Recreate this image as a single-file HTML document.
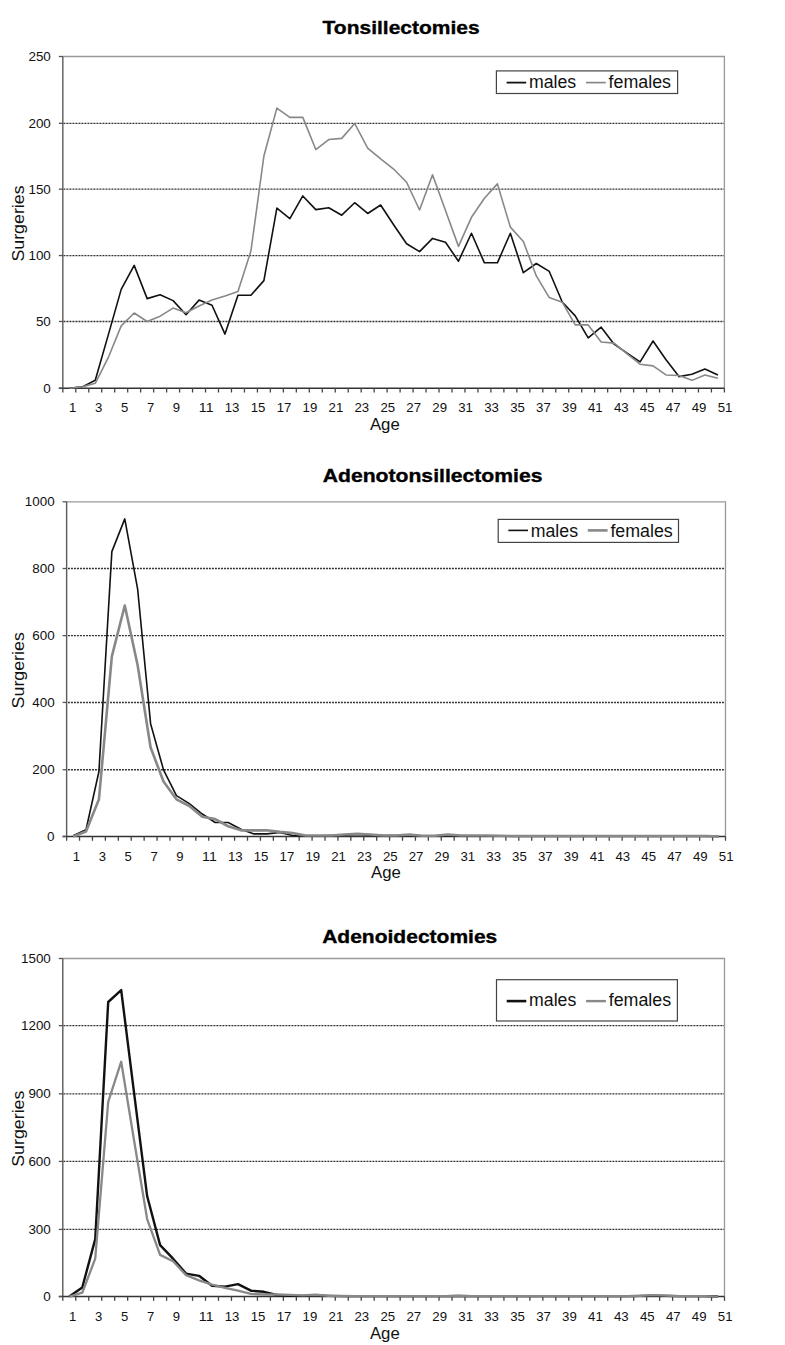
<!DOCTYPE html>
<html><head><meta charset="utf-8"><style>
html,body{margin:0;padding:0;background:#fff;}
svg{display:block;}
</style></head><body>
<svg width="785" height="1345" viewBox="0 0 785 1345">
<rect width="785" height="1345" fill="#fff"/>
<text x="322.6" y="34.1" font-family='"Liberation Sans", sans-serif' font-weight="bold" font-size="18.7" stroke="#000" stroke-width="0.35" textLength="157.1" lengthAdjust="spacingAndGlyphs" fill="#000">Tonsillectomies</text>
<line x1="62.83" y1="321.48" x2="724.4" y2="321.48" stroke="#333" stroke-width="1.35" stroke-dasharray="2,1" stroke-dashoffset="-0.6"/>
<line x1="62.83" y1="255.55" x2="724.4" y2="255.55" stroke="#333" stroke-width="1.35" stroke-dasharray="2,1" stroke-dashoffset="-0.6"/>
<line x1="62.83" y1="189.17" x2="724.4" y2="189.17" stroke="#333" stroke-width="1.35" stroke-dasharray="2,1" stroke-dashoffset="-0.6"/>
<line x1="62.83" y1="123.35" x2="724.4" y2="123.35" stroke="#333" stroke-width="1.35" stroke-dasharray="2,1" stroke-dashoffset="-0.6"/>
<polyline points="62.83,56.5 724.4,56.5 724.4,388.2" fill="none" stroke="#999" stroke-width="1.3"/>
<line x1="62.83" y1="56.5" x2="62.83" y2="388.2" stroke="#5a5a5a" stroke-width="1.4"/>
<line x1="58.83" y1="388.2" x2="724.4" y2="388.2" stroke="#333" stroke-width="1.4"/>
<line x1="58.83" y1="388.20" x2="62.83" y2="388.20" stroke="#555" stroke-width="1.3"/>
<text x="50.83" y="392.80" text-anchor="end" font-family='"Liberation Sans", sans-serif' font-size="12.7" textLength="7.5" lengthAdjust="spacingAndGlyphs" fill="#111">0</text>
<line x1="58.83" y1="321.48" x2="62.83" y2="321.48" stroke="#555" stroke-width="1.3"/>
<text x="50.83" y="326.08" text-anchor="end" font-family='"Liberation Sans", sans-serif' font-size="12.7" textLength="14.9" lengthAdjust="spacingAndGlyphs" fill="#111">50</text>
<line x1="58.83" y1="255.55" x2="62.83" y2="255.55" stroke="#555" stroke-width="1.3"/>
<text x="50.83" y="260.15" text-anchor="end" font-family='"Liberation Sans", sans-serif' font-size="12.7" textLength="22.4" lengthAdjust="spacingAndGlyphs" fill="#111">100</text>
<line x1="58.83" y1="189.17" x2="62.83" y2="189.17" stroke="#555" stroke-width="1.3"/>
<text x="50.83" y="193.77" text-anchor="end" font-family='"Liberation Sans", sans-serif' font-size="12.7" textLength="22.4" lengthAdjust="spacingAndGlyphs" fill="#111">150</text>
<line x1="58.83" y1="123.35" x2="62.83" y2="123.35" stroke="#555" stroke-width="1.3"/>
<text x="50.83" y="127.95" text-anchor="end" font-family='"Liberation Sans", sans-serif' font-size="12.7" textLength="22.4" lengthAdjust="spacingAndGlyphs" fill="#111">200</text>
<line x1="58.83" y1="56.50" x2="62.83" y2="56.50" stroke="#555" stroke-width="1.3"/>
<text x="50.83" y="61.10" text-anchor="end" font-family='"Liberation Sans", sans-serif' font-size="12.7" textLength="22.4" lengthAdjust="spacingAndGlyphs" fill="#111">250</text>
<line x1="62.83" y1="388.2" x2="62.83" y2="392.5" stroke="#444" stroke-width="1.3"/>
<line x1="75.80" y1="388.2" x2="75.80" y2="392.5" stroke="#444" stroke-width="1.3"/>
<line x1="88.77" y1="388.2" x2="88.77" y2="392.5" stroke="#444" stroke-width="1.3"/>
<line x1="101.75" y1="388.2" x2="101.75" y2="392.5" stroke="#444" stroke-width="1.3"/>
<line x1="114.72" y1="388.2" x2="114.72" y2="392.5" stroke="#444" stroke-width="1.3"/>
<line x1="127.69" y1="388.2" x2="127.69" y2="392.5" stroke="#444" stroke-width="1.3"/>
<line x1="140.66" y1="388.2" x2="140.66" y2="392.5" stroke="#444" stroke-width="1.3"/>
<line x1="153.63" y1="388.2" x2="153.63" y2="392.5" stroke="#444" stroke-width="1.3"/>
<line x1="166.61" y1="388.2" x2="166.61" y2="392.5" stroke="#444" stroke-width="1.3"/>
<line x1="179.58" y1="388.2" x2="179.58" y2="392.5" stroke="#444" stroke-width="1.3"/>
<line x1="192.55" y1="388.2" x2="192.55" y2="392.5" stroke="#444" stroke-width="1.3"/>
<line x1="205.52" y1="388.2" x2="205.52" y2="392.5" stroke="#444" stroke-width="1.3"/>
<line x1="218.49" y1="388.2" x2="218.49" y2="392.5" stroke="#444" stroke-width="1.3"/>
<line x1="231.47" y1="388.2" x2="231.47" y2="392.5" stroke="#444" stroke-width="1.3"/>
<line x1="244.44" y1="388.2" x2="244.44" y2="392.5" stroke="#444" stroke-width="1.3"/>
<line x1="257.41" y1="388.2" x2="257.41" y2="392.5" stroke="#444" stroke-width="1.3"/>
<line x1="270.38" y1="388.2" x2="270.38" y2="392.5" stroke="#444" stroke-width="1.3"/>
<line x1="283.35" y1="388.2" x2="283.35" y2="392.5" stroke="#444" stroke-width="1.3"/>
<line x1="296.33" y1="388.2" x2="296.33" y2="392.5" stroke="#444" stroke-width="1.3"/>
<line x1="309.30" y1="388.2" x2="309.30" y2="392.5" stroke="#444" stroke-width="1.3"/>
<line x1="322.27" y1="388.2" x2="322.27" y2="392.5" stroke="#444" stroke-width="1.3"/>
<line x1="335.24" y1="388.2" x2="335.24" y2="392.5" stroke="#444" stroke-width="1.3"/>
<line x1="348.21" y1="388.2" x2="348.21" y2="392.5" stroke="#444" stroke-width="1.3"/>
<line x1="361.19" y1="388.2" x2="361.19" y2="392.5" stroke="#444" stroke-width="1.3"/>
<line x1="374.16" y1="388.2" x2="374.16" y2="392.5" stroke="#444" stroke-width="1.3"/>
<line x1="387.13" y1="388.2" x2="387.13" y2="392.5" stroke="#444" stroke-width="1.3"/>
<line x1="400.10" y1="388.2" x2="400.10" y2="392.5" stroke="#444" stroke-width="1.3"/>
<line x1="413.07" y1="388.2" x2="413.07" y2="392.5" stroke="#444" stroke-width="1.3"/>
<line x1="426.04" y1="388.2" x2="426.04" y2="392.5" stroke="#444" stroke-width="1.3"/>
<line x1="439.02" y1="388.2" x2="439.02" y2="392.5" stroke="#444" stroke-width="1.3"/>
<line x1="451.99" y1="388.2" x2="451.99" y2="392.5" stroke="#444" stroke-width="1.3"/>
<line x1="464.96" y1="388.2" x2="464.96" y2="392.5" stroke="#444" stroke-width="1.3"/>
<line x1="477.93" y1="388.2" x2="477.93" y2="392.5" stroke="#444" stroke-width="1.3"/>
<line x1="490.90" y1="388.2" x2="490.90" y2="392.5" stroke="#444" stroke-width="1.3"/>
<line x1="503.88" y1="388.2" x2="503.88" y2="392.5" stroke="#444" stroke-width="1.3"/>
<line x1="516.85" y1="388.2" x2="516.85" y2="392.5" stroke="#444" stroke-width="1.3"/>
<line x1="529.82" y1="388.2" x2="529.82" y2="392.5" stroke="#444" stroke-width="1.3"/>
<line x1="542.79" y1="388.2" x2="542.79" y2="392.5" stroke="#444" stroke-width="1.3"/>
<line x1="555.76" y1="388.2" x2="555.76" y2="392.5" stroke="#444" stroke-width="1.3"/>
<line x1="568.74" y1="388.2" x2="568.74" y2="392.5" stroke="#444" stroke-width="1.3"/>
<line x1="581.71" y1="388.2" x2="581.71" y2="392.5" stroke="#444" stroke-width="1.3"/>
<line x1="594.68" y1="388.2" x2="594.68" y2="392.5" stroke="#444" stroke-width="1.3"/>
<line x1="607.65" y1="388.2" x2="607.65" y2="392.5" stroke="#444" stroke-width="1.3"/>
<line x1="620.62" y1="388.2" x2="620.62" y2="392.5" stroke="#444" stroke-width="1.3"/>
<line x1="633.60" y1="388.2" x2="633.60" y2="392.5" stroke="#444" stroke-width="1.3"/>
<line x1="646.57" y1="388.2" x2="646.57" y2="392.5" stroke="#444" stroke-width="1.3"/>
<line x1="659.54" y1="388.2" x2="659.54" y2="392.5" stroke="#444" stroke-width="1.3"/>
<line x1="672.51" y1="388.2" x2="672.51" y2="392.5" stroke="#444" stroke-width="1.3"/>
<line x1="685.48" y1="388.2" x2="685.48" y2="392.5" stroke="#444" stroke-width="1.3"/>
<line x1="698.46" y1="388.2" x2="698.46" y2="392.5" stroke="#444" stroke-width="1.3"/>
<line x1="711.43" y1="388.2" x2="711.43" y2="392.5" stroke="#444" stroke-width="1.3"/>
<line x1="724.40" y1="388.2" x2="724.40" y2="392.5" stroke="#444" stroke-width="1.3"/>
<text x="69.12" y="412.30" font-family='"Liberation Sans", sans-serif' font-size="12.7" textLength="7.3" lengthAdjust="spacingAndGlyphs" fill="#111">1</text>
<text x="95.06" y="412.30" font-family='"Liberation Sans", sans-serif' font-size="12.7" textLength="7.3" lengthAdjust="spacingAndGlyphs" fill="#111">3</text>
<text x="121.00" y="412.30" font-family='"Liberation Sans", sans-serif' font-size="12.7" textLength="7.3" lengthAdjust="spacingAndGlyphs" fill="#111">5</text>
<text x="146.95" y="412.30" font-family='"Liberation Sans", sans-serif' font-size="12.7" textLength="7.3" lengthAdjust="spacingAndGlyphs" fill="#111">7</text>
<text x="172.89" y="412.30" font-family='"Liberation Sans", sans-serif' font-size="12.7" textLength="7.3" lengthAdjust="spacingAndGlyphs" fill="#111">9</text>
<text x="198.84" y="412.30" font-family='"Liberation Sans", sans-serif' font-size="12.7" textLength="14.7" lengthAdjust="spacingAndGlyphs" fill="#111">11</text>
<text x="224.78" y="412.30" font-family='"Liberation Sans", sans-serif' font-size="12.7" textLength="14.7" lengthAdjust="spacingAndGlyphs" fill="#111">13</text>
<text x="250.72" y="412.30" font-family='"Liberation Sans", sans-serif' font-size="12.7" textLength="14.7" lengthAdjust="spacingAndGlyphs" fill="#111">15</text>
<text x="276.67" y="412.30" font-family='"Liberation Sans", sans-serif' font-size="12.7" textLength="14.7" lengthAdjust="spacingAndGlyphs" fill="#111">17</text>
<text x="302.61" y="412.30" font-family='"Liberation Sans", sans-serif' font-size="12.7" textLength="14.7" lengthAdjust="spacingAndGlyphs" fill="#111">19</text>
<text x="328.56" y="412.30" font-family='"Liberation Sans", sans-serif' font-size="12.7" textLength="14.7" lengthAdjust="spacingAndGlyphs" fill="#111">21</text>
<text x="354.50" y="412.30" font-family='"Liberation Sans", sans-serif' font-size="12.7" textLength="14.7" lengthAdjust="spacingAndGlyphs" fill="#111">23</text>
<text x="380.44" y="412.30" font-family='"Liberation Sans", sans-serif' font-size="12.7" textLength="14.7" lengthAdjust="spacingAndGlyphs" fill="#111">25</text>
<text x="406.39" y="412.30" font-family='"Liberation Sans", sans-serif' font-size="12.7" textLength="14.7" lengthAdjust="spacingAndGlyphs" fill="#111">27</text>
<text x="432.33" y="412.30" font-family='"Liberation Sans", sans-serif' font-size="12.7" textLength="14.7" lengthAdjust="spacingAndGlyphs" fill="#111">29</text>
<text x="458.27" y="412.30" font-family='"Liberation Sans", sans-serif' font-size="12.7" textLength="14.7" lengthAdjust="spacingAndGlyphs" fill="#111">31</text>
<text x="484.22" y="412.30" font-family='"Liberation Sans", sans-serif' font-size="12.7" textLength="14.7" lengthAdjust="spacingAndGlyphs" fill="#111">33</text>
<text x="510.16" y="412.30" font-family='"Liberation Sans", sans-serif' font-size="12.7" textLength="14.7" lengthAdjust="spacingAndGlyphs" fill="#111">35</text>
<text x="536.11" y="412.30" font-family='"Liberation Sans", sans-serif' font-size="12.7" textLength="14.7" lengthAdjust="spacingAndGlyphs" fill="#111">37</text>
<text x="562.05" y="412.30" font-family='"Liberation Sans", sans-serif' font-size="12.7" textLength="14.7" lengthAdjust="spacingAndGlyphs" fill="#111">39</text>
<text x="587.99" y="412.30" font-family='"Liberation Sans", sans-serif' font-size="12.7" textLength="14.7" lengthAdjust="spacingAndGlyphs" fill="#111">41</text>
<text x="613.94" y="412.30" font-family='"Liberation Sans", sans-serif' font-size="12.7" textLength="14.7" lengthAdjust="spacingAndGlyphs" fill="#111">43</text>
<text x="639.88" y="412.30" font-family='"Liberation Sans", sans-serif' font-size="12.7" textLength="14.7" lengthAdjust="spacingAndGlyphs" fill="#111">45</text>
<text x="665.83" y="412.30" font-family='"Liberation Sans", sans-serif' font-size="12.7" textLength="14.7" lengthAdjust="spacingAndGlyphs" fill="#111">47</text>
<text x="691.77" y="412.30" font-family='"Liberation Sans", sans-serif' font-size="12.7" textLength="14.7" lengthAdjust="spacingAndGlyphs" fill="#111">49</text>
<text x="717.71" y="412.30" font-family='"Liberation Sans", sans-serif' font-size="12.7" textLength="14.7" lengthAdjust="spacingAndGlyphs" fill="#111">51</text>
<text x="384.8" y="429.6" text-anchor="middle" font-family='"Liberation Sans", sans-serif' font-size="16" textLength="29.8" lengthAdjust="spacingAndGlyphs" fill="#111">Age</text>
<text transform="translate(24.0,223.5) rotate(-90)" text-anchor="middle" font-family='"Liberation Sans", sans-serif' font-size="16.6" textLength="76.2" lengthAdjust="spacingAndGlyphs" fill="#111">Surgeries</text>
<polyline points="69.32,388.20 82.29,386.87 95.26,380.24 108.23,335.13 121.20,289.35 134.18,265.34 147.15,298.64 160.12,294.79 173.09,300.63 186.06,314.70 199.04,300.10 212.01,305.27 224.98,334.07 237.95,295.32 250.92,295.32 263.90,280.60 276.87,208.15 289.84,218.63 302.81,195.95 315.78,209.61 328.76,207.76 341.73,215.19 354.70,202.71 367.67,213.46 380.64,204.97 393.61,224.74 406.59,243.71 419.56,251.67 432.53,238.40 445.50,242.25 458.47,261.23 471.45,233.23 484.42,262.82 497.39,262.82 510.36,233.23 523.33,272.64 536.31,263.48 549.28,271.44 562.25,301.96 575.22,315.89 588.19,337.91 601.17,327.17 614.14,344.15 627.11,353.17 640.08,361.80 653.05,340.97 666.03,359.67 679.00,376.59 691.97,374.27 704.94,368.96 717.91,374.93" fill="none" stroke="#111" stroke-width="1.6" stroke-linejoin="round"/>
<polyline points="69.32,388.20 82.29,386.87 95.26,383.29 108.23,357.68 121.20,325.84 134.18,312.97 147.15,321.46 160.12,316.15 173.09,308.06 186.06,312.71 199.04,305.94 212.01,299.97 224.98,295.99 237.95,291.48 250.92,251.01 263.90,156.01 276.87,108.11 289.84,117.40 302.81,117.40 315.78,149.51 328.76,139.56 341.73,138.36 354.70,123.50 367.67,148.05 380.64,158.80 393.61,169.01 406.59,182.28 419.56,210.01 432.53,174.72 445.50,210.41 458.47,246.37 471.45,217.31 484.42,198.20 497.39,183.87 510.36,227.13 523.33,241.46 536.31,275.95 549.28,297.58 562.25,302.22 575.22,324.91 588.19,324.91 601.17,342.03 614.14,343.09 627.11,353.84 640.08,364.18 653.05,365.91 666.03,374.93 679.00,375.46 691.97,380.37 704.94,374.93 717.91,378.25" fill="none" stroke="#888" stroke-width="1.6" stroke-linejoin="round"/>
<rect x="496.4" y="70.9" width="181.2" height="22.6" fill="#fff" stroke="#444" stroke-width="1.2"/>
<line x1="506.59999999999997" y1="82.6" x2="526.1999999999999" y2="82.6" stroke="#111" stroke-width="1.8"/>
<text x="529.0" y="87.9" font-family='"Liberation Sans", sans-serif' font-size="17.5" textLength="47.2" lengthAdjust="spacingAndGlyphs" fill="#111">males</text>
<line x1="586.0" y1="82.6" x2="605.8" y2="82.6" stroke="#888" stroke-width="1.7"/>
<text x="608.6" y="87.9" font-family='"Liberation Sans", sans-serif' font-size="17.5" textLength="62.4" lengthAdjust="spacingAndGlyphs" fill="#111">females</text>
<text x="322.7" y="482.3" font-family='"Liberation Sans", sans-serif' font-weight="bold" font-size="18.7" stroke="#000" stroke-width="0.35" textLength="219.8" lengthAdjust="spacingAndGlyphs" fill="#000">Adenotonsillectomies</text>
<line x1="66.63" y1="769.74" x2="725.5" y2="769.74" stroke="#333" stroke-width="1.35" stroke-dasharray="2,1" stroke-dashoffset="-1.3"/>
<line x1="66.63" y1="702.45" x2="725.5" y2="702.45" stroke="#333" stroke-width="1.35" stroke-dasharray="2,1" stroke-dashoffset="-1.3"/>
<line x1="66.63" y1="635.64" x2="725.5" y2="635.64" stroke="#333" stroke-width="1.35" stroke-dasharray="2,1" stroke-dashoffset="-1.3"/>
<line x1="66.63" y1="568.50" x2="725.5" y2="568.50" stroke="#333" stroke-width="1.35" stroke-dasharray="2,1" stroke-dashoffset="-1.3"/>
<polyline points="66.63,501.8 725.5,501.8 725.5,836.45" fill="none" stroke="#999" stroke-width="1.3"/>
<line x1="66.63" y1="501.8" x2="66.63" y2="836.45" stroke="#5a5a5a" stroke-width="1.4"/>
<line x1="62.629999999999995" y1="836.45" x2="725.5" y2="836.45" stroke="#333" stroke-width="1.4"/>
<line x1="62.629999999999995" y1="836.45" x2="66.63" y2="836.45" stroke="#555" stroke-width="1.3"/>
<text x="54.629999999999995" y="841.05" text-anchor="end" font-family='"Liberation Sans", sans-serif' font-size="12.7" textLength="7.5" lengthAdjust="spacingAndGlyphs" fill="#111">0</text>
<line x1="62.629999999999995" y1="769.74" x2="66.63" y2="769.74" stroke="#555" stroke-width="1.3"/>
<text x="54.629999999999995" y="774.34" text-anchor="end" font-family='"Liberation Sans", sans-serif' font-size="12.7" textLength="22.4" lengthAdjust="spacingAndGlyphs" fill="#111">200</text>
<line x1="62.629999999999995" y1="702.45" x2="66.63" y2="702.45" stroke="#555" stroke-width="1.3"/>
<text x="54.629999999999995" y="707.05" text-anchor="end" font-family='"Liberation Sans", sans-serif' font-size="12.7" textLength="22.4" lengthAdjust="spacingAndGlyphs" fill="#111">400</text>
<line x1="62.629999999999995" y1="635.64" x2="66.63" y2="635.64" stroke="#555" stroke-width="1.3"/>
<text x="54.629999999999995" y="640.24" text-anchor="end" font-family='"Liberation Sans", sans-serif' font-size="12.7" textLength="22.4" lengthAdjust="spacingAndGlyphs" fill="#111">600</text>
<line x1="62.629999999999995" y1="568.50" x2="66.63" y2="568.50" stroke="#555" stroke-width="1.3"/>
<text x="54.629999999999995" y="573.10" text-anchor="end" font-family='"Liberation Sans", sans-serif' font-size="12.7" textLength="22.4" lengthAdjust="spacingAndGlyphs" fill="#111">800</text>
<line x1="62.629999999999995" y1="501.80" x2="66.63" y2="501.80" stroke="#555" stroke-width="1.3"/>
<text x="54.629999999999995" y="506.40" text-anchor="end" font-family='"Liberation Sans", sans-serif' font-size="12.7" textLength="29.8" lengthAdjust="spacingAndGlyphs" fill="#111">1000</text>
<line x1="66.63" y1="836.45" x2="66.63" y2="840.75" stroke="#444" stroke-width="1.3"/>
<line x1="79.55" y1="836.45" x2="79.55" y2="840.75" stroke="#444" stroke-width="1.3"/>
<line x1="92.47" y1="836.45" x2="92.47" y2="840.75" stroke="#444" stroke-width="1.3"/>
<line x1="105.39" y1="836.45" x2="105.39" y2="840.75" stroke="#444" stroke-width="1.3"/>
<line x1="118.31" y1="836.45" x2="118.31" y2="840.75" stroke="#444" stroke-width="1.3"/>
<line x1="131.23" y1="836.45" x2="131.23" y2="840.75" stroke="#444" stroke-width="1.3"/>
<line x1="144.14" y1="836.45" x2="144.14" y2="840.75" stroke="#444" stroke-width="1.3"/>
<line x1="157.06" y1="836.45" x2="157.06" y2="840.75" stroke="#444" stroke-width="1.3"/>
<line x1="169.98" y1="836.45" x2="169.98" y2="840.75" stroke="#444" stroke-width="1.3"/>
<line x1="182.90" y1="836.45" x2="182.90" y2="840.75" stroke="#444" stroke-width="1.3"/>
<line x1="195.82" y1="836.45" x2="195.82" y2="840.75" stroke="#444" stroke-width="1.3"/>
<line x1="208.74" y1="836.45" x2="208.74" y2="840.75" stroke="#444" stroke-width="1.3"/>
<line x1="221.66" y1="836.45" x2="221.66" y2="840.75" stroke="#444" stroke-width="1.3"/>
<line x1="234.58" y1="836.45" x2="234.58" y2="840.75" stroke="#444" stroke-width="1.3"/>
<line x1="247.50" y1="836.45" x2="247.50" y2="840.75" stroke="#444" stroke-width="1.3"/>
<line x1="260.42" y1="836.45" x2="260.42" y2="840.75" stroke="#444" stroke-width="1.3"/>
<line x1="273.33" y1="836.45" x2="273.33" y2="840.75" stroke="#444" stroke-width="1.3"/>
<line x1="286.25" y1="836.45" x2="286.25" y2="840.75" stroke="#444" stroke-width="1.3"/>
<line x1="299.17" y1="836.45" x2="299.17" y2="840.75" stroke="#444" stroke-width="1.3"/>
<line x1="312.09" y1="836.45" x2="312.09" y2="840.75" stroke="#444" stroke-width="1.3"/>
<line x1="325.01" y1="836.45" x2="325.01" y2="840.75" stroke="#444" stroke-width="1.3"/>
<line x1="337.93" y1="836.45" x2="337.93" y2="840.75" stroke="#444" stroke-width="1.3"/>
<line x1="350.85" y1="836.45" x2="350.85" y2="840.75" stroke="#444" stroke-width="1.3"/>
<line x1="363.77" y1="836.45" x2="363.77" y2="840.75" stroke="#444" stroke-width="1.3"/>
<line x1="376.69" y1="836.45" x2="376.69" y2="840.75" stroke="#444" stroke-width="1.3"/>
<line x1="389.61" y1="836.45" x2="389.61" y2="840.75" stroke="#444" stroke-width="1.3"/>
<line x1="402.52" y1="836.45" x2="402.52" y2="840.75" stroke="#444" stroke-width="1.3"/>
<line x1="415.44" y1="836.45" x2="415.44" y2="840.75" stroke="#444" stroke-width="1.3"/>
<line x1="428.36" y1="836.45" x2="428.36" y2="840.75" stroke="#444" stroke-width="1.3"/>
<line x1="441.28" y1="836.45" x2="441.28" y2="840.75" stroke="#444" stroke-width="1.3"/>
<line x1="454.20" y1="836.45" x2="454.20" y2="840.75" stroke="#444" stroke-width="1.3"/>
<line x1="467.12" y1="836.45" x2="467.12" y2="840.75" stroke="#444" stroke-width="1.3"/>
<line x1="480.04" y1="836.45" x2="480.04" y2="840.75" stroke="#444" stroke-width="1.3"/>
<line x1="492.96" y1="836.45" x2="492.96" y2="840.75" stroke="#444" stroke-width="1.3"/>
<line x1="505.88" y1="836.45" x2="505.88" y2="840.75" stroke="#444" stroke-width="1.3"/>
<line x1="518.80" y1="836.45" x2="518.80" y2="840.75" stroke="#444" stroke-width="1.3"/>
<line x1="531.71" y1="836.45" x2="531.71" y2="840.75" stroke="#444" stroke-width="1.3"/>
<line x1="544.63" y1="836.45" x2="544.63" y2="840.75" stroke="#444" stroke-width="1.3"/>
<line x1="557.55" y1="836.45" x2="557.55" y2="840.75" stroke="#444" stroke-width="1.3"/>
<line x1="570.47" y1="836.45" x2="570.47" y2="840.75" stroke="#444" stroke-width="1.3"/>
<line x1="583.39" y1="836.45" x2="583.39" y2="840.75" stroke="#444" stroke-width="1.3"/>
<line x1="596.31" y1="836.45" x2="596.31" y2="840.75" stroke="#444" stroke-width="1.3"/>
<line x1="609.23" y1="836.45" x2="609.23" y2="840.75" stroke="#444" stroke-width="1.3"/>
<line x1="622.15" y1="836.45" x2="622.15" y2="840.75" stroke="#444" stroke-width="1.3"/>
<line x1="635.07" y1="836.45" x2="635.07" y2="840.75" stroke="#444" stroke-width="1.3"/>
<line x1="647.99" y1="836.45" x2="647.99" y2="840.75" stroke="#444" stroke-width="1.3"/>
<line x1="660.90" y1="836.45" x2="660.90" y2="840.75" stroke="#444" stroke-width="1.3"/>
<line x1="673.82" y1="836.45" x2="673.82" y2="840.75" stroke="#444" stroke-width="1.3"/>
<line x1="686.74" y1="836.45" x2="686.74" y2="840.75" stroke="#444" stroke-width="1.3"/>
<line x1="699.66" y1="836.45" x2="699.66" y2="840.75" stroke="#444" stroke-width="1.3"/>
<line x1="712.58" y1="836.45" x2="712.58" y2="840.75" stroke="#444" stroke-width="1.3"/>
<line x1="725.50" y1="836.45" x2="725.50" y2="840.75" stroke="#444" stroke-width="1.3"/>
<text x="72.89" y="860.55" font-family='"Liberation Sans", sans-serif' font-size="12.7" textLength="7.3" lengthAdjust="spacingAndGlyphs" fill="#111">1</text>
<text x="98.73" y="860.55" font-family='"Liberation Sans", sans-serif' font-size="12.7" textLength="7.3" lengthAdjust="spacingAndGlyphs" fill="#111">3</text>
<text x="124.57" y="860.55" font-family='"Liberation Sans", sans-serif' font-size="12.7" textLength="7.3" lengthAdjust="spacingAndGlyphs" fill="#111">5</text>
<text x="150.40" y="860.55" font-family='"Liberation Sans", sans-serif' font-size="12.7" textLength="7.3" lengthAdjust="spacingAndGlyphs" fill="#111">7</text>
<text x="176.24" y="860.55" font-family='"Liberation Sans", sans-serif' font-size="12.7" textLength="7.3" lengthAdjust="spacingAndGlyphs" fill="#111">9</text>
<text x="202.08" y="860.55" font-family='"Liberation Sans", sans-serif' font-size="12.7" textLength="14.7" lengthAdjust="spacingAndGlyphs" fill="#111">11</text>
<text x="227.92" y="860.55" font-family='"Liberation Sans", sans-serif' font-size="12.7" textLength="14.7" lengthAdjust="spacingAndGlyphs" fill="#111">13</text>
<text x="253.76" y="860.55" font-family='"Liberation Sans", sans-serif' font-size="12.7" textLength="14.7" lengthAdjust="spacingAndGlyphs" fill="#111">15</text>
<text x="279.59" y="860.55" font-family='"Liberation Sans", sans-serif' font-size="12.7" textLength="14.7" lengthAdjust="spacingAndGlyphs" fill="#111">17</text>
<text x="305.43" y="860.55" font-family='"Liberation Sans", sans-serif' font-size="12.7" textLength="14.7" lengthAdjust="spacingAndGlyphs" fill="#111">19</text>
<text x="331.27" y="860.55" font-family='"Liberation Sans", sans-serif' font-size="12.7" textLength="14.7" lengthAdjust="spacingAndGlyphs" fill="#111">21</text>
<text x="357.11" y="860.55" font-family='"Liberation Sans", sans-serif' font-size="12.7" textLength="14.7" lengthAdjust="spacingAndGlyphs" fill="#111">23</text>
<text x="382.95" y="860.55" font-family='"Liberation Sans", sans-serif' font-size="12.7" textLength="14.7" lengthAdjust="spacingAndGlyphs" fill="#111">25</text>
<text x="408.78" y="860.55" font-family='"Liberation Sans", sans-serif' font-size="12.7" textLength="14.7" lengthAdjust="spacingAndGlyphs" fill="#111">27</text>
<text x="434.62" y="860.55" font-family='"Liberation Sans", sans-serif' font-size="12.7" textLength="14.7" lengthAdjust="spacingAndGlyphs" fill="#111">29</text>
<text x="460.46" y="860.55" font-family='"Liberation Sans", sans-serif' font-size="12.7" textLength="14.7" lengthAdjust="spacingAndGlyphs" fill="#111">31</text>
<text x="486.30" y="860.55" font-family='"Liberation Sans", sans-serif' font-size="12.7" textLength="14.7" lengthAdjust="spacingAndGlyphs" fill="#111">33</text>
<text x="512.14" y="860.55" font-family='"Liberation Sans", sans-serif' font-size="12.7" textLength="14.7" lengthAdjust="spacingAndGlyphs" fill="#111">35</text>
<text x="537.97" y="860.55" font-family='"Liberation Sans", sans-serif' font-size="12.7" textLength="14.7" lengthAdjust="spacingAndGlyphs" fill="#111">37</text>
<text x="563.81" y="860.55" font-family='"Liberation Sans", sans-serif' font-size="12.7" textLength="14.7" lengthAdjust="spacingAndGlyphs" fill="#111">39</text>
<text x="589.65" y="860.55" font-family='"Liberation Sans", sans-serif' font-size="12.7" textLength="14.7" lengthAdjust="spacingAndGlyphs" fill="#111">41</text>
<text x="615.49" y="860.55" font-family='"Liberation Sans", sans-serif' font-size="12.7" textLength="14.7" lengthAdjust="spacingAndGlyphs" fill="#111">43</text>
<text x="641.33" y="860.55" font-family='"Liberation Sans", sans-serif' font-size="12.7" textLength="14.7" lengthAdjust="spacingAndGlyphs" fill="#111">45</text>
<text x="667.16" y="860.55" font-family='"Liberation Sans", sans-serif' font-size="12.7" textLength="14.7" lengthAdjust="spacingAndGlyphs" fill="#111">47</text>
<text x="693.00" y="860.55" font-family='"Liberation Sans", sans-serif' font-size="12.7" textLength="14.7" lengthAdjust="spacingAndGlyphs" fill="#111">49</text>
<text x="718.84" y="860.55" font-family='"Liberation Sans", sans-serif' font-size="12.7" textLength="14.7" lengthAdjust="spacingAndGlyphs" fill="#111">51</text>
<text x="385.9" y="878.0" text-anchor="middle" font-family='"Liberation Sans", sans-serif' font-size="16" textLength="29.8" lengthAdjust="spacingAndGlyphs" fill="#111">Age</text>
<text transform="translate(24.0,670.3) rotate(-90)" text-anchor="middle" font-family='"Liberation Sans", sans-serif' font-size="16.6" textLength="76.2" lengthAdjust="spacingAndGlyphs" fill="#111">Surgeries</text>
<polyline points="73.09,835.78 86.01,829.76 98.93,771.53 111.85,551.66 124.77,518.87 137.68,589.48 150.60,723.67 163.52,769.85 176.44,795.62 189.36,803.65 202.28,814.03 215.20,822.50 228.12,822.50 241.04,829.32 253.96,833.91 266.87,833.91 279.79,832.43 292.71,835.45 305.63,835.78 318.55,835.78 331.47,835.45 344.39,835.11 357.31,834.44 370.23,835.11 383.15,835.45 396.06,835.45 408.98,835.11 421.90,835.78 434.82,835.78 447.74,835.45 460.66,835.78 473.58,835.78 486.50,835.78 499.42,836.12 512.34,836.12 525.26,836.12 538.17,836.12 551.09,836.12 564.01,836.12 576.93,836.12 589.85,836.12 602.77,836.12 615.69,836.12 628.61,836.12 641.53,836.12 654.45,836.12 667.36,836.12 680.28,836.12 693.20,836.12 706.12,836.12 719.04,836.45" fill="none" stroke="#111" stroke-width="1.6" stroke-linejoin="round"/>
<polyline points="73.09,836.45 86.01,831.43 98.93,799.30 111.85,656.41 124.77,605.54 137.68,665.44 150.60,747.43 163.52,781.57 176.44,799.30 189.36,806.00 202.28,816.71 215.20,819.12 228.12,826.24 241.04,830.33 253.96,830.33 266.87,830.33 279.79,831.87 292.71,833.10 305.63,835.45 318.55,835.45 331.47,835.45 344.39,834.44 357.31,833.77 370.23,834.44 383.15,835.45 396.06,835.45 408.98,834.44 421.90,835.78 434.82,835.78 447.74,834.44 460.66,835.45 473.58,835.45 486.50,835.45 499.42,835.78 512.34,836.12 525.26,836.12 538.17,836.12 551.09,836.12 564.01,836.12 576.93,836.12 589.85,836.12 602.77,836.12 615.69,836.12 628.61,836.12 641.53,836.12 654.45,836.12 667.36,836.12 680.28,836.12 693.20,836.12 706.12,836.12 719.04,836.45" fill="none" stroke="#888" stroke-width="2.6" stroke-linejoin="round"/>
<rect x="498.2" y="519.4" width="180.3" height="23" fill="#fff" stroke="#444" stroke-width="1.2"/>
<line x1="508.4" y1="530.4" x2="528.0" y2="530.4" stroke="#111" stroke-width="1.6"/>
<text x="530.8" y="536.8" font-family='"Liberation Sans", sans-serif' font-size="17.5" textLength="47.2" lengthAdjust="spacingAndGlyphs" fill="#111">males</text>
<line x1="587.8" y1="530.4" x2="607.6" y2="530.4" stroke="#888" stroke-width="2.6"/>
<text x="610.4" y="536.8" font-family='"Liberation Sans", sans-serif' font-size="17.5" textLength="62.4" lengthAdjust="spacingAndGlyphs" fill="#111">females</text>
<text x="322.2" y="943.1" font-family='"Liberation Sans", sans-serif' font-weight="bold" font-size="18.7" stroke="#000" stroke-width="0.35" textLength="175.1" lengthAdjust="spacingAndGlyphs" fill="#000">Adenoidectomies</text>
<line x1="62.8" y1="1229.41" x2="724.5" y2="1229.41" stroke="#333" stroke-width="1.35" stroke-dasharray="2,1" stroke-dashoffset="-0.6"/>
<line x1="62.8" y1="1161.41" x2="724.5" y2="1161.41" stroke="#333" stroke-width="1.35" stroke-dasharray="2,1" stroke-dashoffset="-0.6"/>
<line x1="62.8" y1="1093.83" x2="724.5" y2="1093.83" stroke="#333" stroke-width="1.35" stroke-dasharray="2,1" stroke-dashoffset="-0.6"/>
<line x1="62.8" y1="1025.64" x2="724.5" y2="1025.64" stroke="#333" stroke-width="1.35" stroke-dasharray="2,1" stroke-dashoffset="-0.6"/>
<polyline points="62.8,958.5 724.5,958.5 724.5,1296.55" fill="none" stroke="#999" stroke-width="1.3"/>
<line x1="62.8" y1="958.5" x2="62.8" y2="1296.55" stroke="#5a5a5a" stroke-width="1.4"/>
<line x1="58.8" y1="1296.55" x2="724.5" y2="1296.55" stroke="#333" stroke-width="1.4"/>
<line x1="58.8" y1="1296.55" x2="62.8" y2="1296.55" stroke="#555" stroke-width="1.3"/>
<text x="50.8" y="1301.15" text-anchor="end" font-family='"Liberation Sans", sans-serif' font-size="12.7" textLength="7.5" lengthAdjust="spacingAndGlyphs" fill="#111">0</text>
<line x1="58.8" y1="1229.41" x2="62.8" y2="1229.41" stroke="#555" stroke-width="1.3"/>
<text x="50.8" y="1234.01" text-anchor="end" font-family='"Liberation Sans", sans-serif' font-size="12.7" textLength="22.4" lengthAdjust="spacingAndGlyphs" fill="#111">300</text>
<line x1="58.8" y1="1161.41" x2="62.8" y2="1161.41" stroke="#555" stroke-width="1.3"/>
<text x="50.8" y="1166.01" text-anchor="end" font-family='"Liberation Sans", sans-serif' font-size="12.7" textLength="22.4" lengthAdjust="spacingAndGlyphs" fill="#111">600</text>
<line x1="58.8" y1="1093.83" x2="62.8" y2="1093.83" stroke="#555" stroke-width="1.3"/>
<text x="50.8" y="1098.43" text-anchor="end" font-family='"Liberation Sans", sans-serif' font-size="12.7" textLength="22.4" lengthAdjust="spacingAndGlyphs" fill="#111">900</text>
<line x1="58.8" y1="1025.64" x2="62.8" y2="1025.64" stroke="#555" stroke-width="1.3"/>
<text x="50.8" y="1030.24" text-anchor="end" font-family='"Liberation Sans", sans-serif' font-size="12.7" textLength="29.8" lengthAdjust="spacingAndGlyphs" fill="#111">1200</text>
<line x1="58.8" y1="958.50" x2="62.8" y2="958.50" stroke="#555" stroke-width="1.3"/>
<text x="50.8" y="963.10" text-anchor="end" font-family='"Liberation Sans", sans-serif' font-size="12.7" textLength="29.8" lengthAdjust="spacingAndGlyphs" fill="#111">1500</text>
<line x1="62.80" y1="1296.55" x2="62.80" y2="1300.85" stroke="#444" stroke-width="1.3"/>
<line x1="75.77" y1="1296.55" x2="75.77" y2="1300.85" stroke="#444" stroke-width="1.3"/>
<line x1="88.75" y1="1296.55" x2="88.75" y2="1300.85" stroke="#444" stroke-width="1.3"/>
<line x1="101.72" y1="1296.55" x2="101.72" y2="1300.85" stroke="#444" stroke-width="1.3"/>
<line x1="114.70" y1="1296.55" x2="114.70" y2="1300.85" stroke="#444" stroke-width="1.3"/>
<line x1="127.67" y1="1296.55" x2="127.67" y2="1300.85" stroke="#444" stroke-width="1.3"/>
<line x1="140.65" y1="1296.55" x2="140.65" y2="1300.85" stroke="#444" stroke-width="1.3"/>
<line x1="153.62" y1="1296.55" x2="153.62" y2="1300.85" stroke="#444" stroke-width="1.3"/>
<line x1="166.60" y1="1296.55" x2="166.60" y2="1300.85" stroke="#444" stroke-width="1.3"/>
<line x1="179.57" y1="1296.55" x2="179.57" y2="1300.85" stroke="#444" stroke-width="1.3"/>
<line x1="192.55" y1="1296.55" x2="192.55" y2="1300.85" stroke="#444" stroke-width="1.3"/>
<line x1="205.52" y1="1296.55" x2="205.52" y2="1300.85" stroke="#444" stroke-width="1.3"/>
<line x1="218.49" y1="1296.55" x2="218.49" y2="1300.85" stroke="#444" stroke-width="1.3"/>
<line x1="231.47" y1="1296.55" x2="231.47" y2="1300.85" stroke="#444" stroke-width="1.3"/>
<line x1="244.44" y1="1296.55" x2="244.44" y2="1300.85" stroke="#444" stroke-width="1.3"/>
<line x1="257.42" y1="1296.55" x2="257.42" y2="1300.85" stroke="#444" stroke-width="1.3"/>
<line x1="270.39" y1="1296.55" x2="270.39" y2="1300.85" stroke="#444" stroke-width="1.3"/>
<line x1="283.37" y1="1296.55" x2="283.37" y2="1300.85" stroke="#444" stroke-width="1.3"/>
<line x1="296.34" y1="1296.55" x2="296.34" y2="1300.85" stroke="#444" stroke-width="1.3"/>
<line x1="309.32" y1="1296.55" x2="309.32" y2="1300.85" stroke="#444" stroke-width="1.3"/>
<line x1="322.29" y1="1296.55" x2="322.29" y2="1300.85" stroke="#444" stroke-width="1.3"/>
<line x1="335.26" y1="1296.55" x2="335.26" y2="1300.85" stroke="#444" stroke-width="1.3"/>
<line x1="348.24" y1="1296.55" x2="348.24" y2="1300.85" stroke="#444" stroke-width="1.3"/>
<line x1="361.21" y1="1296.55" x2="361.21" y2="1300.85" stroke="#444" stroke-width="1.3"/>
<line x1="374.19" y1="1296.55" x2="374.19" y2="1300.85" stroke="#444" stroke-width="1.3"/>
<line x1="387.16" y1="1296.55" x2="387.16" y2="1300.85" stroke="#444" stroke-width="1.3"/>
<line x1="400.14" y1="1296.55" x2="400.14" y2="1300.85" stroke="#444" stroke-width="1.3"/>
<line x1="413.11" y1="1296.55" x2="413.11" y2="1300.85" stroke="#444" stroke-width="1.3"/>
<line x1="426.09" y1="1296.55" x2="426.09" y2="1300.85" stroke="#444" stroke-width="1.3"/>
<line x1="439.06" y1="1296.55" x2="439.06" y2="1300.85" stroke="#444" stroke-width="1.3"/>
<line x1="452.04" y1="1296.55" x2="452.04" y2="1300.85" stroke="#444" stroke-width="1.3"/>
<line x1="465.01" y1="1296.55" x2="465.01" y2="1300.85" stroke="#444" stroke-width="1.3"/>
<line x1="477.98" y1="1296.55" x2="477.98" y2="1300.85" stroke="#444" stroke-width="1.3"/>
<line x1="490.96" y1="1296.55" x2="490.96" y2="1300.85" stroke="#444" stroke-width="1.3"/>
<line x1="503.93" y1="1296.55" x2="503.93" y2="1300.85" stroke="#444" stroke-width="1.3"/>
<line x1="516.91" y1="1296.55" x2="516.91" y2="1300.85" stroke="#444" stroke-width="1.3"/>
<line x1="529.88" y1="1296.55" x2="529.88" y2="1300.85" stroke="#444" stroke-width="1.3"/>
<line x1="542.86" y1="1296.55" x2="542.86" y2="1300.85" stroke="#444" stroke-width="1.3"/>
<line x1="555.83" y1="1296.55" x2="555.83" y2="1300.85" stroke="#444" stroke-width="1.3"/>
<line x1="568.81" y1="1296.55" x2="568.81" y2="1300.85" stroke="#444" stroke-width="1.3"/>
<line x1="581.78" y1="1296.55" x2="581.78" y2="1300.85" stroke="#444" stroke-width="1.3"/>
<line x1="594.75" y1="1296.55" x2="594.75" y2="1300.85" stroke="#444" stroke-width="1.3"/>
<line x1="607.73" y1="1296.55" x2="607.73" y2="1300.85" stroke="#444" stroke-width="1.3"/>
<line x1="620.70" y1="1296.55" x2="620.70" y2="1300.85" stroke="#444" stroke-width="1.3"/>
<line x1="633.68" y1="1296.55" x2="633.68" y2="1300.85" stroke="#444" stroke-width="1.3"/>
<line x1="646.65" y1="1296.55" x2="646.65" y2="1300.85" stroke="#444" stroke-width="1.3"/>
<line x1="659.63" y1="1296.55" x2="659.63" y2="1300.85" stroke="#444" stroke-width="1.3"/>
<line x1="672.60" y1="1296.55" x2="672.60" y2="1300.85" stroke="#444" stroke-width="1.3"/>
<line x1="685.58" y1="1296.55" x2="685.58" y2="1300.85" stroke="#444" stroke-width="1.3"/>
<line x1="698.55" y1="1296.55" x2="698.55" y2="1300.85" stroke="#444" stroke-width="1.3"/>
<line x1="711.53" y1="1296.55" x2="711.53" y2="1300.85" stroke="#444" stroke-width="1.3"/>
<line x1="724.50" y1="1296.55" x2="724.50" y2="1300.85" stroke="#444" stroke-width="1.3"/>
<text x="69.09" y="1320.65" font-family='"Liberation Sans", sans-serif' font-size="12.7" textLength="7.3" lengthAdjust="spacingAndGlyphs" fill="#111">1</text>
<text x="95.04" y="1320.65" font-family='"Liberation Sans", sans-serif' font-size="12.7" textLength="7.3" lengthAdjust="spacingAndGlyphs" fill="#111">3</text>
<text x="120.99" y="1320.65" font-family='"Liberation Sans", sans-serif' font-size="12.7" textLength="7.3" lengthAdjust="spacingAndGlyphs" fill="#111">5</text>
<text x="146.93" y="1320.65" font-family='"Liberation Sans", sans-serif' font-size="12.7" textLength="7.3" lengthAdjust="spacingAndGlyphs" fill="#111">7</text>
<text x="172.88" y="1320.65" font-family='"Liberation Sans", sans-serif' font-size="12.7" textLength="7.3" lengthAdjust="spacingAndGlyphs" fill="#111">9</text>
<text x="198.83" y="1320.65" font-family='"Liberation Sans", sans-serif' font-size="12.7" textLength="14.7" lengthAdjust="spacingAndGlyphs" fill="#111">11</text>
<text x="224.78" y="1320.65" font-family='"Liberation Sans", sans-serif' font-size="12.7" textLength="14.7" lengthAdjust="spacingAndGlyphs" fill="#111">13</text>
<text x="250.73" y="1320.65" font-family='"Liberation Sans", sans-serif' font-size="12.7" textLength="14.7" lengthAdjust="spacingAndGlyphs" fill="#111">15</text>
<text x="276.68" y="1320.65" font-family='"Liberation Sans", sans-serif' font-size="12.7" textLength="14.7" lengthAdjust="spacingAndGlyphs" fill="#111">17</text>
<text x="302.63" y="1320.65" font-family='"Liberation Sans", sans-serif' font-size="12.7" textLength="14.7" lengthAdjust="spacingAndGlyphs" fill="#111">19</text>
<text x="328.58" y="1320.65" font-family='"Liberation Sans", sans-serif' font-size="12.7" textLength="14.7" lengthAdjust="spacingAndGlyphs" fill="#111">21</text>
<text x="354.53" y="1320.65" font-family='"Liberation Sans", sans-serif' font-size="12.7" textLength="14.7" lengthAdjust="spacingAndGlyphs" fill="#111">23</text>
<text x="380.48" y="1320.65" font-family='"Liberation Sans", sans-serif' font-size="12.7" textLength="14.7" lengthAdjust="spacingAndGlyphs" fill="#111">25</text>
<text x="406.42" y="1320.65" font-family='"Liberation Sans", sans-serif' font-size="12.7" textLength="14.7" lengthAdjust="spacingAndGlyphs" fill="#111">27</text>
<text x="432.37" y="1320.65" font-family='"Liberation Sans", sans-serif' font-size="12.7" textLength="14.7" lengthAdjust="spacingAndGlyphs" fill="#111">29</text>
<text x="458.32" y="1320.65" font-family='"Liberation Sans", sans-serif' font-size="12.7" textLength="14.7" lengthAdjust="spacingAndGlyphs" fill="#111">31</text>
<text x="484.27" y="1320.65" font-family='"Liberation Sans", sans-serif' font-size="12.7" textLength="14.7" lengthAdjust="spacingAndGlyphs" fill="#111">33</text>
<text x="510.22" y="1320.65" font-family='"Liberation Sans", sans-serif' font-size="12.7" textLength="14.7" lengthAdjust="spacingAndGlyphs" fill="#111">35</text>
<text x="536.17" y="1320.65" font-family='"Liberation Sans", sans-serif' font-size="12.7" textLength="14.7" lengthAdjust="spacingAndGlyphs" fill="#111">37</text>
<text x="562.12" y="1320.65" font-family='"Liberation Sans", sans-serif' font-size="12.7" textLength="14.7" lengthAdjust="spacingAndGlyphs" fill="#111">39</text>
<text x="588.07" y="1320.65" font-family='"Liberation Sans", sans-serif' font-size="12.7" textLength="14.7" lengthAdjust="spacingAndGlyphs" fill="#111">41</text>
<text x="614.02" y="1320.65" font-family='"Liberation Sans", sans-serif' font-size="12.7" textLength="14.7" lengthAdjust="spacingAndGlyphs" fill="#111">43</text>
<text x="639.97" y="1320.65" font-family='"Liberation Sans", sans-serif' font-size="12.7" textLength="14.7" lengthAdjust="spacingAndGlyphs" fill="#111">45</text>
<text x="665.91" y="1320.65" font-family='"Liberation Sans", sans-serif' font-size="12.7" textLength="14.7" lengthAdjust="spacingAndGlyphs" fill="#111">47</text>
<text x="691.86" y="1320.65" font-family='"Liberation Sans", sans-serif' font-size="12.7" textLength="14.7" lengthAdjust="spacingAndGlyphs" fill="#111">49</text>
<text x="717.81" y="1320.65" font-family='"Liberation Sans", sans-serif' font-size="12.7" textLength="14.7" lengthAdjust="spacingAndGlyphs" fill="#111">51</text>
<text x="384.85" y="1338.8" text-anchor="middle" font-family='"Liberation Sans", sans-serif' font-size="16" textLength="29.8" lengthAdjust="spacingAndGlyphs" fill="#111">Age</text>
<text transform="translate(24.0,1128.7) rotate(-90)" text-anchor="middle" font-family='"Liberation Sans", sans-serif' font-size="16.6" textLength="76.2" lengthAdjust="spacingAndGlyphs" fill="#111">Surgeries</text>
<polyline points="69.29,1296.55 82.26,1287.54 95.24,1239.08 108.21,1002.00 121.19,990.05 134.16,1093.72 147.13,1196.04 160.11,1245.17 173.08,1258.69 186.06,1273.56 199.03,1275.82 212.01,1285.73 224.98,1286.63 237.96,1284.15 250.93,1290.69 263.90,1291.82 276.88,1294.97 289.85,1295.87 302.83,1295.87 315.80,1295.42 328.78,1295.87 341.75,1296.10 354.73,1296.10 367.70,1296.10 380.68,1296.10 393.65,1296.10 406.62,1296.10 419.60,1296.10 432.57,1296.10 445.55,1296.10 458.52,1295.87 471.50,1296.10 484.47,1296.10 497.45,1296.10 510.42,1296.10 523.40,1296.10 536.37,1296.10 549.34,1296.10 562.32,1296.10 575.29,1296.10 588.27,1296.10 601.24,1296.10 614.22,1296.10 627.19,1296.10 640.17,1295.87 653.14,1295.65 666.11,1295.87 679.09,1296.10 692.06,1296.10 705.04,1296.10 718.01,1296.55" fill="none" stroke="#111" stroke-width="2.4" stroke-linejoin="round"/>
<polyline points="69.29,1296.55 82.26,1292.72 95.24,1258.69 108.21,1101.83 121.19,1061.72 134.16,1141.05 147.13,1219.02 160.11,1254.86 173.08,1261.17 186.06,1275.14 199.03,1280.32 212.01,1284.61 224.98,1287.76 237.96,1290.69 250.93,1293.85 263.90,1294.52 276.88,1294.52 289.85,1294.97 302.83,1295.42 315.80,1294.75 328.78,1295.87 341.75,1295.87 354.73,1296.10 367.70,1296.10 380.68,1296.10 393.65,1296.10 406.62,1296.10 419.60,1296.10 432.57,1296.10 445.55,1296.10 458.52,1295.87 471.50,1296.10 484.47,1296.10 497.45,1296.10 510.42,1296.10 523.40,1296.10 536.37,1296.10 549.34,1296.10 562.32,1296.10 575.29,1296.10 588.27,1296.10 601.24,1296.10 614.22,1296.10 627.19,1296.10 640.17,1295.87 653.14,1295.20 666.11,1295.65 679.09,1296.10 692.06,1296.10 705.04,1296.10 718.01,1296.55" fill="none" stroke="#888" stroke-width="2.3" stroke-linejoin="round"/>
<rect x="496.5" y="979.7" width="180.9" height="41.3" fill="#fff" stroke="#444" stroke-width="1.2"/>
<line x1="506.7" y1="1001.1" x2="526.3" y2="1001.1" stroke="#111" stroke-width="2.6"/>
<text x="529.1" y="1005.7" font-family='"Liberation Sans", sans-serif' font-size="17.5" textLength="47.2" lengthAdjust="spacingAndGlyphs" fill="#111">males</text>
<line x1="586.1" y1="1001.1" x2="605.9" y2="1001.1" stroke="#888" stroke-width="2.4"/>
<text x="608.7" y="1005.7" font-family='"Liberation Sans", sans-serif' font-size="17.5" textLength="62.4" lengthAdjust="spacingAndGlyphs" fill="#111">females</text>
</svg>
</body></html>
